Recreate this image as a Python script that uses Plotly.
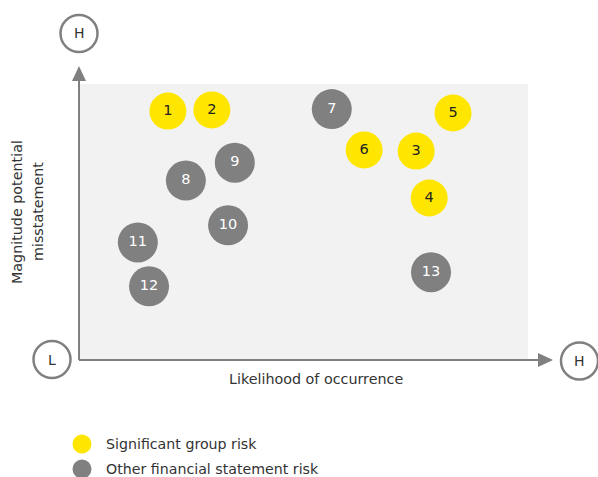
import plotly.graph_objects as go

# ---- data ----
risk_ids = ["1", "2", "3", "4", "5", "6", "7", "8", "9", "10", "11", "12", "13"]
likelihood = [1.98, 2.96, 7.51, 7.80, 8.33, 6.35, 5.63, 2.38, 3.47, 3.32, 1.31, 1.56, 7.84]
magnitude = [9.02, 9.06, 7.57, 5.87, 8.95, 7.61, 9.09, 6.50, 7.15, 4.88, 4.26, 2.67, 3.18]
category = ["sig", "sig", "sig", "sig", "sig", "sig", "other",
            "other", "other", "other", "other", "other", "other"]
legend_labels = ["Significant group risk", "Other financial statement risk"]
x_axis_title = "Likelihood of occurrence"
y_axis_title = ["Magnitude potential", "misstatement"]
end_labels = ["H", "L", "H"]

YELLOW = "#FFE600"
GREY = "#808080"
TEXT = "#333333"
FONT = "DejaVu Sans"

W, H = 598, 477
L, R, T, B = 79, 70, 84, 117
PW, PH = W - L - R, H - T - B

fig = go.Figure()

for cat, color, size, tcol in [("sig", YELLOW, 37, "#222222"), ("other", GREY, 40, "#FFFFFF")]:
    idx = [i for i, c in enumerate(category) if c == cat]
    fig.add_trace(go.Scatter(
        x=[likelihood[i] for i in idx],
        y=[magnitude[i] for i in idx],
        text=[risk_ids[i] for i in idx],
        mode="markers+text",
        textposition="middle center",
        textfont=dict(family=FONT, size=14.5, color=tcol),
        marker=dict(size=size, color=color, line=dict(width=0)),
        showlegend=False,
        hoverinfo="skip",
    ))

def px_x(px):
    return (px - L) / PW

def px_y(py):
    return (H - B - py) / PH

shapes = []
LINE = dict(color=GREY, width=2)
# vertical axis line + arrow
shapes.append(dict(type="line", xref="paper", yref="paper", x0=0, x1=0, y0=0, y1=px_y(80), line=LINE))
shapes.append(dict(type="path", xref="paper", yref="paper",
                   path=f"M {px_x(72)} {px_y(81)} L {px_x(86)} {px_y(81)} L {px_x(79)} {px_y(66)} Z",
                   fillcolor=GREY, line=dict(width=0)))
# horizontal axis line + arrow
shapes.append(dict(type="line", xref="paper", yref="paper", x0=0, x1=px_x(539), y0=0, y1=0, line=LINE))
shapes.append(dict(type="path", xref="paper", yref="paper",
                   path=f"M {px_x(538)} {px_y(353)} L {px_x(538)} {px_y(367)} L {px_x(553)} {px_y(360)} Z",
                   fillcolor=GREY, line=dict(width=0)))

annotations = []
# end circles
for (cx, cy), lab in zip([(79, 33.5), (52, 359.5), (579.5, 361)], end_labels):
    shapes.append(dict(type="circle", xref="paper", yref="paper", xsizemode="pixel", ysizemode="pixel",
                       xanchor=px_x(cx), yanchor=px_y(cy), x0=-18.5, x1=18.5, y0=-18.5, y1=18.5,
                       line=dict(color=GREY, width=2.5), fillcolor="white"))
    annotations.append(dict(xref="paper", yref="paper", x=px_x(cx), y=px_y(cy), text=lab,
                            showarrow=False, xanchor="center", yanchor="middle",
                            font=dict(family=FONT, size=14, color=TEXT)))

# axis titles
annotations.append(dict(xref="paper", yref="paper", x=px_x(316), y=px_y(379), text=x_axis_title,
                        showarrow=False, xanchor="center", yanchor="middle",
                        font=dict(family=FONT, size=14.3, color=TEXT)))
for xpos, line_text in zip([17, 38], y_axis_title):
    annotations.append(dict(xref="paper", yref="paper", x=px_x(xpos), y=px_y(212), text=line_text,
                            showarrow=False, xanchor="center", yanchor="middle", textangle=-90,
                            font=dict(family=FONT, size=14.3, color=TEXT)))

# legend
for (cy, color, lab) in [(444, YELLOW, legend_labels[0]), (469, GREY, legend_labels[1])]:
    shapes.append(dict(type="circle", xref="paper", yref="paper", xsizemode="pixel", ysizemode="pixel",
                       xanchor=px_x(82), yanchor=px_y(cy), x0=-9.5, x1=9.5, y0=-9.5, y1=9.5,
                       line=dict(width=0), fillcolor=color))
    annotations.append(dict(xref="paper", yref="paper", x=px_x(104), y=px_y(cy), text=lab,
                            showarrow=False, xanchor="left", yanchor="middle",
                            font=dict(family=FONT, size=14.2, color=TEXT)))

fig.update_layout(
    width=W, height=H,
    margin=dict(l=L, r=R, t=T, b=B, pad=0),
    paper_bgcolor="white",
    plot_bgcolor="#F2F2F2",
    xaxis=dict(range=[0, 10], showgrid=False, zeroline=False, showticklabels=False, ticks="", showline=False, fixedrange=True),
    yaxis=dict(range=[0, 10], showgrid=False, zeroline=False, showticklabels=False, ticks="", showline=False, fixedrange=True),
    shapes=shapes,
    annotations=annotations,
    showlegend=False,
)

fig.write_html("out.html", config={"displayModeBar": False})
